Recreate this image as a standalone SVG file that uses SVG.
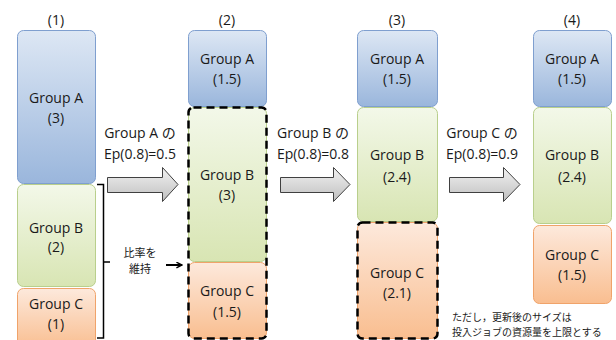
<svg xmlns="http://www.w3.org/2000/svg" width="616" height="340" viewBox="0 0 616 340">
<defs>
<linearGradient id="gA" x1="0" y1="0" x2="0" y2="1"><stop offset="0" stop-color="#dde7f4"/><stop offset="1" stop-color="#9ab6dc"/></linearGradient>
<linearGradient id="gB" x1="0" y1="0" x2="0" y2="1"><stop offset="0" stop-color="#f3f8e9"/><stop offset="1" stop-color="#d8e5b3"/></linearGradient>
<linearGradient id="gC" x1="0" y1="0" x2="0" y2="1"><stop offset="0" stop-color="#fde9dc"/><stop offset="1" stop-color="#f9be90"/></linearGradient>
<linearGradient id="gArr" x1="0" y1="0" x2="0" y2="1"><stop offset="0" stop-color="#f2f2f2"/><stop offset="1" stop-color="#bfbfbf"/></linearGradient>
<marker id="ah" viewBox="0 0 10 10" refX="9" refY="5" markerWidth="7" markerHeight="7" markerUnits="userSpaceOnUse" orient="auto"><path d="M1,1 L9,5 L1,9" fill="none" stroke="#000" stroke-width="2"/></marker>
</defs>
<style>
text{font-family:"Open Sans","Noto Sans CJK JP",sans-serif;fill:#1a1a1a;text-anchor:middle}
.t{font-size:14px}
.s{font-size:10px;text-anchor:start}
.k{font-size:11px}
.a{fill:url(#gA);stroke:#7f9fcf;stroke-width:1}
.b{fill:url(#gB);stroke:#b9cf8c;stroke-width:1}
.c{fill:url(#gC);stroke:#f0a36a;stroke-width:1}
.d{fill:none;stroke:#000;stroke-width:2.5;stroke-dasharray:8 5}
.arr{fill:url(#gArr);stroke:#404040;stroke-width:1}
.ln{fill:none;stroke:#000;stroke-width:1.5}
</style>
<text class="t" x="56" y="25">(1)</text>
<text class="t" x="227" y="25">(2)</text>
<text class="t" x="397" y="25">(3)</text>
<text class="t" x="572" y="25">(4)</text>

<g id="c1A"><rect class="a" x="17.5" y="30.5" width="78" height="153" rx="6"/><text class="t" x="56" y="103">Group A</text><text class="t" x="56" y="123">(3)</text></g>
<g id="c1B"><rect class="b" x="17.5" y="184.5" width="78" height="102" rx="6"/><text class="t" x="56" y="233">Group B</text><text class="t" x="56" y="252">(2)</text></g>
<g id="c1C"><rect class="c" x="17.5" y="288.5" width="78" height="60" rx="6"/><text class="t" x="56" y="309">Group C</text><text class="t" x="56" y="329">(1)</text></g>

<g id="c2A"><rect class="a" x="188.5" y="30.5" width="78" height="76" rx="6"/><text class="t" x="227" y="64">Group A</text><text class="t" x="227" y="84">(1.5)</text></g>
<g id="c2B"><rect class="b" x="188.5" y="107.5" width="78" height="154" rx="6"/><text class="t" x="227" y="180">Group B</text><text class="t" x="227" y="200">(3)</text></g>
<g id="c2C"><rect class="c" x="188.5" y="262.5" width="78" height="76" rx="6"/><text class="t" x="227" y="296">Group C</text><text class="t" x="227" y="317">(1.5)</text></g>
<g id="c2D"><rect class="d" x="188.5" y="107.5" width="78" height="231" rx="5"/></g>

<g id="c3A"><rect class="a" x="357.5" y="30.5" width="80" height="76" rx="6"/><text class="t" x="397" y="64">Group A</text><text class="t" x="397" y="84">(1.5)</text></g>
<g id="c3B"><rect class="b" x="357.5" y="107.5" width="80" height="114" rx="6"/><text class="t" x="397" y="160">Group B</text><text class="t" x="397" y="182">(2.4)</text></g>
<g id="c3C"><rect class="c" x="357.5" y="222.5" width="80" height="116" rx="6"/><rect class="d" x="357.5" y="222.5" width="80" height="116" rx="5"/><text class="t" x="397" y="278">Group C</text><text class="t" x="397" y="298">(2.1)</text></g>

<g id="c4A"><rect class="a" x="533.5" y="30.5" width="78" height="76" rx="6"/><text class="t" x="572" y="64">Group A</text><text class="t" x="572" y="84">(1.5)</text></g>
<g id="c4B"><rect class="b" x="533.5" y="107.5" width="78" height="116" rx="6"/><text class="t" x="572" y="160">Group B</text><text class="t" x="572" y="182">(2.4)</text></g>
<g id="c4C"><rect class="c" x="533.5" y="225.5" width="78" height="78" rx="6"/><text class="t" x="572" y="260">Group C</text><text class="t" x="572" y="280">(1.5)</text></g>

<g id="connectors">
<path class="arr" d="M107.5,177.5 H162.5 V167.5 L178,184.5 L162.5,201.5 V192.5 H107.5 Z"/>
<path class="arr" d="M280.5,177.5 H333.5 V167.5 L350,184.5 L333.5,201.5 V192.5 H280.5 Z"/>
<path class="arr" d="M449.5,177.5 H503.5 V167.5 L520,184.5 L503.5,201.5 V192.5 H449.5 Z"/>
<path class="ln" d="M97,184.5 H103.5 V338 H97 M103.5,262 H110"/>
<line x1="166" y1="265" x2="182" y2="265" stroke="#000" stroke-width="2" marker-end="url(#ah)"/>
</g>

<text class="t" x="140" y="138">Group A の</text>
<text class="t" x="140" y="159">Ep(0.8)=0.5</text>
<text class="t" x="313" y="138">Group B の</text>
<text class="t" x="313" y="159">Ep(0.8)=0.8</text>
<text class="t" x="482" y="138">Group C の</text>
<text class="t" x="482" y="159">Ep(0.8)=0.9</text>

<text class="k" x="140" y="257">比率を</text>
<text class="k" x="140" y="273">維持</text>

<text class="s" x="452" y="321">ただし，更新後のサイズは</text>
<text class="s" x="452" y="336">投入ジョブの資源量を上限とする</text>
</svg>
